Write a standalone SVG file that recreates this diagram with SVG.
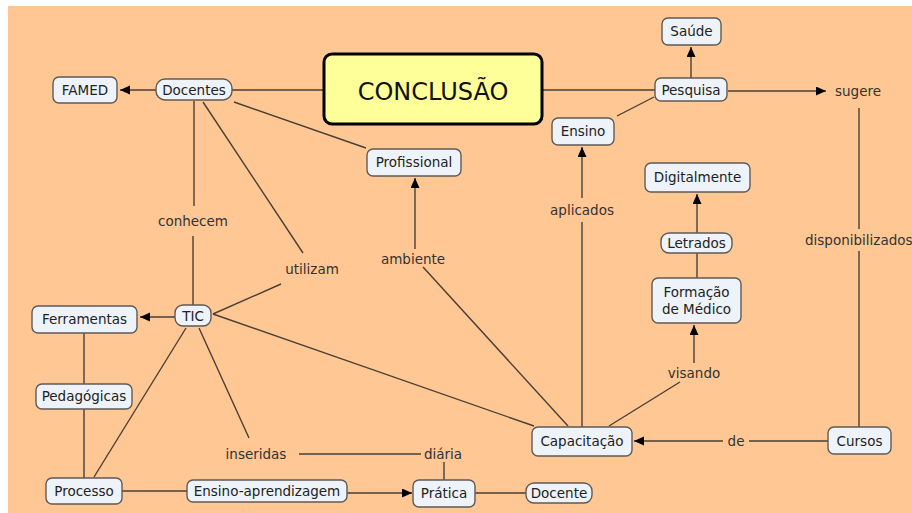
<svg xmlns="http://www.w3.org/2000/svg" width="912" height="513" viewBox="0 0 912 513">
<defs>
<marker id="arr" markerUnits="userSpaceOnUse" markerWidth="11" markerHeight="10" refX="10" refY="4.5" orient="auto">
<path d="M0,0 L10,4.5 L0,9 z" fill="#000"/>
</marker>
<style>
.bg{fill:#FFC794}
.n rect{fill:#EDF3F8;stroke:#5f5a55;stroke-width:1.4}
.n text,.lb{font-family:"DejaVu Sans",Verdana,sans-serif;font-size:13.5px;text-anchor:middle}
.n text{fill:#222}
.lb{fill:#333}
.c line{stroke:#4a3f35;stroke-width:1.4}
.a{marker-end:url(#arr)}
</style>
</defs>
<rect x="0" y="0" width="912" height="513" fill="#fff"/>
<rect class="bg" x="8" y="6" width="904" height="507"/>

<g id="connectors" class="c">
<line class="a" x1="156" y1="90" x2="120" y2="90"/>
<line x1="232" y1="90" x2="324" y2="90"/>
<line x1="234" y1="102" x2="366" y2="148"/>
<line x1="194" y1="101" x2="194" y2="206"/>
<line x1="193" y1="236" x2="193" y2="305"/>
<line x1="203" y1="102" x2="303" y2="253"/>
<line x1="281" y1="284" x2="213" y2="314"/>
<line class="a" x1="175" y1="317" x2="140" y2="317"/>
<line x1="84" y1="333" x2="84" y2="384"/>
<line x1="84" y1="409" x2="84" y2="478"/>
<line x1="186" y1="328" x2="94" y2="477"/>
<line x1="199" y1="328" x2="249" y2="438"/>
<line x1="299" y1="454" x2="421" y2="454"/>
<line x1="444" y1="462" x2="444" y2="480"/>
<line x1="122" y1="491" x2="187" y2="491"/>
<line class="a" x1="347" y1="493" x2="412" y2="493"/>
<line x1="475" y1="493" x2="526" y2="493"/>
<line x1="213" y1="314" x2="534" y2="426"/>
<line x1="423" y1="267" x2="568" y2="426"/>
<line class="a" x1="415" y1="249" x2="415" y2="178"/>
<line x1="582" y1="427" x2="582" y2="222"/>
<line class="a" x1="582" y1="198" x2="582" y2="147"/>
<line x1="609" y1="426" x2="680" y2="382"/>
<line class="a" x1="694" y1="363" x2="694" y2="325"/>
<line x1="697" y1="278" x2="697" y2="253"/>
<line class="a" x1="697" y1="233" x2="697" y2="194"/>
<line x1="828" y1="441" x2="749" y2="441"/>
<line class="a" x1="723" y1="441" x2="634" y2="441"/>
<line x1="859" y1="427" x2="859" y2="251"/>
<line x1="859" y1="229" x2="859" y2="108"/>
<line class="a" x1="728" y1="91" x2="826" y2="91"/>
<line class="a" x1="691" y1="78" x2="691" y2="47"/>
<line x1="543" y1="90" x2="655" y2="90"/>
<line x1="617" y1="116" x2="654" y2="97"/>
</g>

<g id="labels">
<text class="lb" x="193" y="226">conhecem</text>
<text class="lb" x="312" y="274">utilizam</text>
<text class="lb" x="413" y="264">ambiente</text>
<text class="lb" x="582" y="215">aplicados</text>
<text class="lb" x="694" y="378">visando</text>
<text class="lb" x="805" y="245" style="text-anchor:start">disponibilizados</text>
<text class="lb" x="858" y="96">sugere</text>
<text class="lb" x="736" y="446">de</text>
<text class="lb" x="256" y="459">inseridas</text>
<text class="lb" x="443" y="459">diária</text>
</g>

<g id="conclusao">
<rect x="324" y="54" width="218" height="70" rx="8" fill="#FFFF99" stroke="#000" stroke-width="3"/>
<text x="433" y="99.5" font-family="DejaVu Sans, Verdana, sans-serif" font-size="24" text-anchor="middle" fill="#111">CONCLUSÃO</text>
</g>
<g id="famed" class="n"><rect x="53" y="77" width="64" height="26" rx="6"/><text x="85" y="95">FAMED</text></g>
<g id="docentes" class="n"><rect x="156" y="79" width="76" height="21" rx="9"/><text x="194" y="95">Docentes</text></g>
<g id="profissional" class="n"><rect x="367" y="149" width="94" height="27" rx="6"/><text x="414" y="167">Profissional</text></g>
<g id="tic" class="n"><rect x="175" y="305" width="36" height="21" rx="8"/><text x="193" y="320.5">TIC</text></g>
<g id="ferramentas" class="n"><rect x="32" y="306" width="105" height="27" rx="6"/><text x="84.5" y="324">Ferramentas</text></g>
<g id="pedagogicas" class="n"><rect x="36" y="384" width="96" height="25" rx="6"/><text x="84" y="401">Pedagógicas</text></g>
<g id="processo" class="n"><rect x="46" y="478" width="76" height="26" rx="6"/><text x="84" y="496">Processo</text></g>
<g id="ensinoaprendizagem" class="n"><rect x="187" y="480" width="160" height="22" rx="6"/><text x="267" y="495.5">Ensino-aprendizagem</text></g>
<g id="pratica" class="n"><rect x="413" y="480" width="62" height="27" rx="6"/><text x="444" y="498">Prática</text></g>
<g id="docente" class="n"><rect x="526" y="483" width="66" height="20" rx="8"/><text x="559" y="498">Docente</text></g>
<g id="capacitacao" class="n"><rect x="532" y="427" width="100" height="29" rx="6"/><text x="582" y="446">Capacitação</text></g>
<g id="formacao" class="n"><rect x="652" y="278" width="89" height="45" rx="6"/><text x="696.5" y="297">Formação</text><text x="696.5" y="314">de Médico</text></g>
<g id="letrados" class="n"><rect x="661" y="233" width="71" height="20" rx="8"/><text x="696.5" y="248">Letrados</text></g>
<g id="digitalmente" class="n"><rect x="645" y="163" width="105" height="29" rx="6"/><text x="697.5" y="182">Digitalmente</text></g>
<g id="cursos" class="n"><rect x="828" y="427" width="63" height="27" rx="6"/><text x="859.5" y="446">Cursos</text></g>
<g id="pesquisa" class="n"><rect x="655" y="78" width="72" height="23" rx="6"/><text x="691" y="94.5">Pesquisa</text></g>
<g id="saude" class="n"><rect x="662" y="18" width="59" height="27" rx="6"/><text x="691.5" y="36">Saúde</text></g>
<g id="ensino" class="n"><rect x="552" y="118" width="62" height="27" rx="6"/><text x="583" y="136">Ensino</text></g>
</svg>
